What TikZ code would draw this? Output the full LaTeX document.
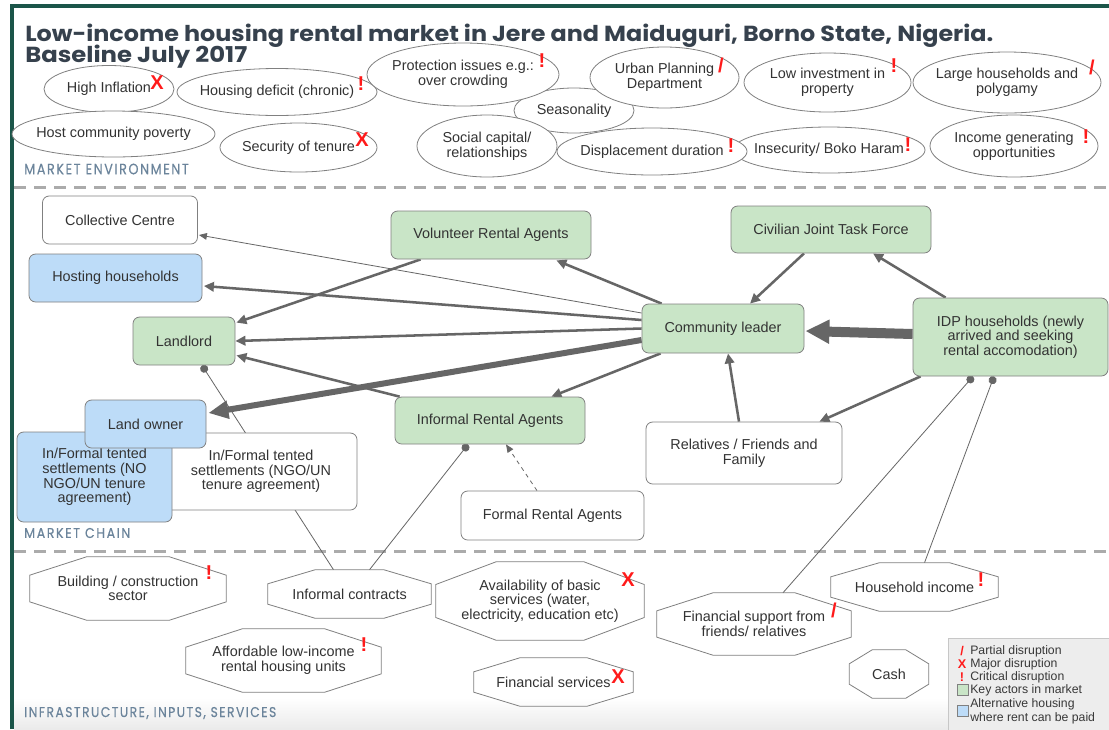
\documentclass[tikz,border=0pt]{standalone}
\usepackage{fontspec}
\setmainfont{Liberation Sans}
\newfontfamily\titlefont{Poppins}
\newfontfamily\labelfont{Poppins}[LetterSpace=12, FakeBold=0.4]
\usepackage{graphicx}
\usetikzlibrary{shapes.geometric,arrows.meta,calc,backgrounds}
\definecolor{keygreen}{HTML}{C9E5C7}
\definecolor{altblue}{HTML}{BDDCF8}
\definecolor{edgegray}{HTML}{808080}
\definecolor{arrowgray}{HTML}{666666}
\definecolor{titleslate}{HTML}{36414D}
\definecolor{labelslate}{HTML}{6B849B}
\definecolor{framegreen}{HTML}{1B5549}
\definecolor{disrupt}{HTML}{FF1A1A}
\newcommand{\octo}[1]{\draw[octline] ($(#1.north west)!.29!(#1.north east)$) -- ($(#1.north west)!.71!(#1.north east)$) -- ($(#1.north east)!.29!(#1.south east)$) -- ($(#1.north east)!.71!(#1.south east)$) -- ($(#1.south west)!.71!(#1.south east)$) -- ($(#1.south west)!.29!(#1.south east)$) -- ($(#1.north west)!.71!(#1.south west)$) -- ($(#1.north west)!.29!(#1.south west)$) -- cycle;}

\begin{document}
\begin{tikzpicture}[x=0.75pt, y=-0.75pt, font=\fontsize{10.8}{11}\selectfont, text=black!80,
	sz/.style 2 args={minimum width=#1*0.75pt, minimum height=#2*0.75pt},
	env/.style={ellipse, draw=edgegray, fill=white, line width=0.6pt, inner xsep=-30pt, inner ysep=-8pt, align=center},
	actor/.style={rectangle, rounded corners=5pt, draw=edgegray, line width=0.6pt, fill=keygreen, inner sep=2pt, align=center},
	althouse/.style={actor, fill=altblue},
	other/.style={actor, fill=white},
	infra/.style={rectangle, inner sep=0pt, align=center},
	octline/.style={draw=edgegray, line width=0.6pt},
	flow/.style={draw=arrowgray, line width=1.9pt, -{Triangle[length=7.5pt,width=7pt]}},
	thinflow/.style={draw=arrowgray, line width=0.6pt, -{Triangle[length=6pt,width=5pt]}},
	link/.style={draw=arrowgray, line width=0.6pt, {Circle[length=6pt]}-},
	flag/.style={text=disrupt, font=\fontsize{15}{15}\selectfont\bfseries, inner sep=0pt},
	section/.style={anchor=west, inner sep=0pt, text=labelslate},
	sep/.style={draw=black!33, line width=2.25pt, dash pattern=on 9pt off 6pt},
	legendtext/.style={anchor=west, inner sep=0pt, align=left, font=\fontsize{9.2}{10.5}\selectfont, text=black!78}]
	\useasboundingbox (0,0) rectangle (1109,729);
	\draw[framegreen, line width=2.4pt] (12,729) -- (12,6) -- (1109,6);
	\node[anchor=base west, inner sep=0pt, text=titleslate] (title) at (25,41.5) {\resizebox{726pt}{13.1pt}{\titlefont\bfseries Low-income housing rental market in Jere and Maiduguri, Borno State, Nigeria.}};
	\node[anchor=base west, inner sep=0pt, text=titleslate] (subtitle) at (25,62.5) {\resizebox{166.5pt}{13.1pt}{\titlefont\bfseries Baseline July 2017}};
	\foreach \n/\x/\y/\w/\h/\t in {season/574/110.5/120/45/Seasonality, infl/109/89/130/47/High Inflation,
		deficit/277/92/200/47/Housing deficit (chronic), protect/463/74.5/192/63/{Protection issues e.g.:\\over crowding},
		urban/664.5/77.5/149/61/{Urban Planning\\Department}, invest/827.5/82.5/167/59/{Low investment in\\property},
		large/1007/82.5/188/61/{Large households and\\polygamy}, host/113.5/134/203/46/Host community poverty,
		tenure/298.5/147.5/157/49/Security of tenure, social/487/146/140/62/{Social capital/\\relationships},
		insec/829/150/192/46/{Insecurity/ Boko Haram}, displ/652/151.5/190/47/Displacement duration,
		income/1014/146/168/62/{Income generating\\opportunities}}
		\node[env, sz={\w}{\h}] (\n) at (\x,\y) {\t};
	\node[section] (envlabel) at (24,169) {\resizebox{123.4pt}{7.9pt}{\labelfont MARKET ENVIRONMENT}};
	\node[other, sz={155}{48}] (cc) at (120,220) {Collective Centre};
	\node[althouse, sz={173}{48}] (hh) at (115.5,278) {Hosting households};
	\node[actor, sz={102}{48}] (landlord) at (184,341) {Landlord};
	\node[other, sz={192}{77}] (ngo) at (261,471.5) {In/Formal tented\\settlements (NGO/UN\\tenure agreement)};
	\node[althouse, sz={155}{90}] (noagr) at (94.5,477) {In/Formal tented\\settlements (NO\\NGO/UN tenure\\agreement)};
	\node[althouse, sz={121}{48}] (lo) at (145.5,424) {Land owner};
	\node[actor, sz={200}{48}] (vra) at (491,235) {Volunteer Rental Agents};
	\node[actor, sz={190}{47}] (ira) at (490,420.5) {Informal Rental Agents};
	\node[other, sz={183}{49}] (fra) at (552.5,515.5) {Formal Rental Agents};
	\node[actor, sz={200}{47}] (cjtf) at (831,229.5) {Civilian Joint Task Force};
	\node[actor, sz={162}{49}] (cl) at (723,328.5) {Community leader};
	\node[actor, sz={195}{78}] (idp) at (1010.5,337) {IDP households (newly\\arrived and seeking\\rental accomodation)};
	\node[other, sz={196}{62}] (rel) at (744,453) {Relatives / Friends and\\Family};
	\node[section] (chainlabel) at (24,533) {\resizebox{79.5pt}{7.5pt}{\labelfont MARKET CHAIN}};
	\node[infra, sz={196}{63}] (build) at (128,588.5) {Building / construction\\sector};
	\node[infra, sz={163}{48}] (ic) at (349.5,594) {Informal contracts};
	\node[infra, sz={208}{78}] (avail) at (540,601) {Availability of basic\\services (water,\\electricity, education etc)};
	\node[infra, sz={195}{63}] (afford) at (283.5,660.5) {Affordable low-income\\rental housing units};
	\node[infra, sz={159}{48}] (finserv) at (553.5,682) {Financial services};
	\node[infra, sz={194}{62}] (finsupp) at (754,624) {Financial support from\\friends/ relatives};
	\node[infra, sz={167}{48}] (hinc) at (914.5,587) {Household income};
	\node[infra, sz={79}{48}] (cash) at (889,674) {Cash};
	\foreach \o in {build,ic,avail,afford,finserv,finsupp,hinc,cash}
		\octo{\o};
	\node[section] (infralabel) at (24,713) {\resizebox{189pt}{7.5pt}{\labelfont INFRASTRUCTURE, INPUTS, SERVICES}};
	\foreach \x/\y/\s [count=\i] in {157/83/X, 361/84/!, 542/61/!, 721/65/{/}, 894/66/!, 1092/67/{/}, 362/140/X, 731/146/!,
		908/145/!, 1086/137/!, 209/573/!, 628/580/X, 364/645/!, 618/677/X, 834/610/{/}, 981/580/!}
		\node[flag] (flag\i) at (\x,\y) {\s};
	\draw[fill=black!7, draw=black!22] (948,638) rectangle (1115,735);
	\foreach \s/\y [count=\i] in {{/}/651, X/664, !/677}
		\node[flag, font=\fontsize{9.5}{9.5}\selectfont\bfseries] (lflag\i) at (962,\y) {\s};
	\node[draw=edgegray, fill=keygreen, minimum size=8.2pt, inner sep=0pt] (keysq) at (962.5,690) {};
	\node[draw=edgegray, fill=altblue, minimum size=8.2pt, inner sep=0pt] (altsq) at (962.5,711) {};
	\foreach \t [count=\i] in {Partial disruption, Major disruption, Critical disruption, Key actors in market}
		\node[legendtext] (leg\i) at (970,638+13*\i) {\t};
	\node[legendtext] (leg5) at (970,711) {Alternative housing\\where rent can be paid};
	\begin{pgfonlayer}{background}
		\fill[white] (0,0) rectangle (1109,729);
		\shade[top color=white, bottom color=black!8] (14,698) rectangle (1109,729);
		\foreach \y in {187,551}
			\draw[sep] (14,\y) -- (1109,\y);
		\draw[thinflow] ($(cl.west)+(0,-15.5)$) -- ($(cc.east)+(1,15)$);
		\draw[flow] ($(cl.west)+(0,-8.5)$) -- ($(hh.east)+(1.5,8)$);
		\draw[flow] (cl.west) -- (landlord.east);
		\draw[flow, line width=4.5pt, -{Triangle[length=15pt,width=13pt]}] ($(cl.west)+(0,11.5)$) -- ($(lo.east)+(2,-11)$);
		\draw[flow] ($(cl.north west)+(20,0)$) -- ($(vra.south east)+(-35,1)$);
		\draw[flow] ($(cl.south west)+(19,0)$) -- ($(ira.north east)+(-34,0)$);
		\draw[flow] ($(vra.south west)+(30,0)$) -- ($(landlord.north east)+(1,6)$);
		\draw[flow] ($(ira.north west)+(5,0)$) -- ($(landlord.south east)+(1,-10)$);
		\draw[flow] ($(cjtf.south)+(-27,0)$) -- ($(cl.north)+(27,0)$);
		\draw[flow] ($(idp.north west)+(33,0)$) -- ($(cjtf.south)+(42,0)$);
		\draw[flow, line width=7.5pt, -{Triangle[length=18pt,width=17pt]}] ($(idp.west)+(0,-3)$) -- ($(cl.east)+(1,2.5)$);
		\draw[flow] ($(idp.south west)+(8,0)$) -- ($(rel.north east)+(-23,0)$);
		\draw[flow] ($(rel.north)+(-5,0)$) -- ($(cl.south)+(5,0)$);
		\draw[thinflow, dashed] ($(fra.north)+(-15.5,0)$) -- ($(ira.south)+(16,0)$);
		\draw[link] ($(landlord.south)+(18,0)$) -- ($(ic.north)+(-16,0)$);
		\draw[link] ($(ira.south)+(-22,0)$) -- ($(ic.north)+(20,0)$);
		\draw[link] ($(idp.south)+(-37.5,0)$) -- ($(finsupp.north)+(29,0)$);
		\draw[link] ($(idp.south)+(-16.5,0)$) -- ($(hinc.north)+(10,0)$);
	\end{pgfonlayer}
\end{tikzpicture}
\end{document}
